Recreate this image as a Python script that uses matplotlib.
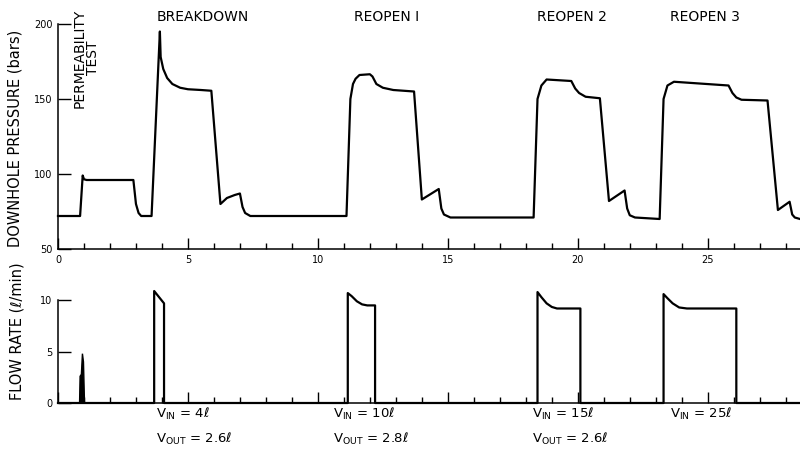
import numpy as np
import matplotlib.pyplot as plt
from matplotlib.ticker import MultipleLocator

# downhole pressure record (time in min, pressure in bars)
t_pres = [0, 0.85, 0.95, 1.0, 1.1, 2.9, 3.0, 3.1, 3.2, 3.6, 3.92, 3.95, 4.05,
          4.2, 4.4, 4.7, 5.0, 5.5, 5.9, 6.25, 6.5, 6.8, 7.0, 7.1, 7.2, 7.4,
          9.0, 11.1, 11.25, 11.35, 11.45, 11.6, 12.0, 12.1, 12.25, 12.5, 12.9,
          13.7, 14.0, 14.65, 14.75, 14.85, 15.1, 18.3, 18.45, 18.6, 18.8,
          19.75, 19.9, 20.05, 20.3, 20.85, 21.2, 21.8, 21.9, 22.0, 22.2,
          23.15, 23.3, 23.45, 23.7, 25.8, 25.95, 26.1, 26.3, 27.3, 27.7,
          28.15, 28.25, 28.35, 28.55]
pres = [72, 72, 99, 96.5, 96, 96, 80, 74, 72, 72, 195, 178, 170,
        164, 160, 157.5, 156.5, 156, 155.5, 80, 84, 86, 87, 78, 74, 72,
        72, 72, 150, 160, 163.5, 166, 166.5, 165, 160, 157.5, 156,
        155, 83, 90, 77, 73, 71, 71, 150, 159, 163,
        162, 157, 154, 151.5, 150.5, 82, 89, 77, 72.5, 71,
        70, 150, 159, 161.5, 159, 154, 151, 149.5, 149, 76,
        81.5, 73, 71, 70]

# injection flow rate (l/min)
t_flow = [0, 3.7, 3.7, 4.08, 4.08, 11.15, 11.15, 11.3, 11.5, 11.7, 11.9,
          12.2, 12.2, 18.45, 18.45, 18.6, 18.8, 19.0, 19.2, 20.1, 20.1,
          23.3, 23.3, 23.45, 23.65, 23.9, 24.2, 26.1, 26.1, 28.55]
flow = [0, 0, 10.9, 9.7, 0, 0, 10.7, 10.4, 9.9, 9.6, 9.5,
        9.5, 0, 0, 10.8, 10.3, 9.7, 9.35, 9.2, 9.2, 0,
        0, 10.6, 10.2, 9.7, 9.3, 9.2, 9.2, 0, 0]

# short permeability-test pulse
t_perm = [0.83, 0.85, 0.9, 0.94, 0.98, 1.02]
flow_perm = [0, 2.6, 2.8, 4.8, 4.0, 0]

stages = ["BREAKDOWN", "REOPEN I", "REOPEN 2", "REOPEN 3"]
stage_x = [203, 387, 572, 705]

vin = ["4", "10", "15", "25"]
vout = ["2.6", "2.8", "2.6", None]
vol_x = [156, 333, 532, 670]

W, H = 800, 451
fig = plt.figure(figsize=(8, 4.51), dpi=100)

def fx(px):
    return px / W

def fy(py):
    return 1 - py / H

ax1 = fig.add_axes([fx(58), fy(249), fx(742), 225 / H])
ax2 = fig.add_axes([fx(58), fy(403), fx(742), 113 / H])

ax1.plot(t_pres, pres, color="black", lw=1.6, clip_on=False)
ax1.set_xlim(0, 28.55)
ax1.set_ylim(50, 200)

ax2.plot(t_flow, flow, color="black", lw=1.6, clip_on=False)
ax2.fill(t_perm, flow_perm, color="black", lw=1.0)
ax2.set_xlim(0, 28.55)
ax2.set_ylim(0, 11)

for ax in (ax1, ax2):
    for s in ("top", "right"):
        ax.spines[s].set_visible(False)
    ax.spines["left"].set_linewidth(1.1)
    ax.spines["bottom"].set_linewidth(1.1)
    ax.xaxis.set_major_locator(MultipleLocator(5))
    ax.xaxis.set_minor_locator(MultipleLocator(1))
    ax.tick_params(axis="x", which="major", direction="in", length=8,
                   width=1.0, labelsize=7, pad=4)
    ax.tick_params(axis="x", which="minor", direction="in", length=4,
                   width=1.0)
    ax.tick_params(axis="y", which="major", direction="in", length=9,
                   width=1.0, labelsize=7, pad=4)

ax1.spines["left"].set_bounds(50, 200)
ax1.set_yticks([50, 100, 150, 200])
ax2.spines["left"].set_bounds(0, 10)
ax2.set_yticks([0, 5, 10])
ax2.tick_params(axis="x", labelbottom=False)

fig.text(fx(15), fy(138), "DOWNHOLE PRESSURE (bars)", rotation=90,
         ha="center", va="center", fontsize=10.5)
fig.text(fx(17), fy(331), "FLOW RATE (ℓ/min)", rotation=90,
         ha="center", va="center", fontsize=10.5)

fig.text(fx(86), fy(58), "PERMEABILITY\nTEST", rotation=90, ha="center",
         va="center", fontsize=10, multialignment="center", linespacing=0.95)
for name, px in zip(stages, stage_x):
    fig.text(fx(px), fy(17), name, ha="center", va="center", fontsize=10)

for v_in, v_out, px in zip(vin, vout, vol_x):
    fig.text(fx(px), fy(414), r"V$_{\mathrm{IN}}$ = " + v_in + "ℓ",
             ha="left", va="center", fontsize=9.5)
    if v_out:
        fig.text(fx(px), fy(439), r"V$_{\mathrm{OUT}}$ = " + v_out + "ℓ",
                 ha="left", va="center", fontsize=9.5)

fig.savefig("out.png", dpi=100)
